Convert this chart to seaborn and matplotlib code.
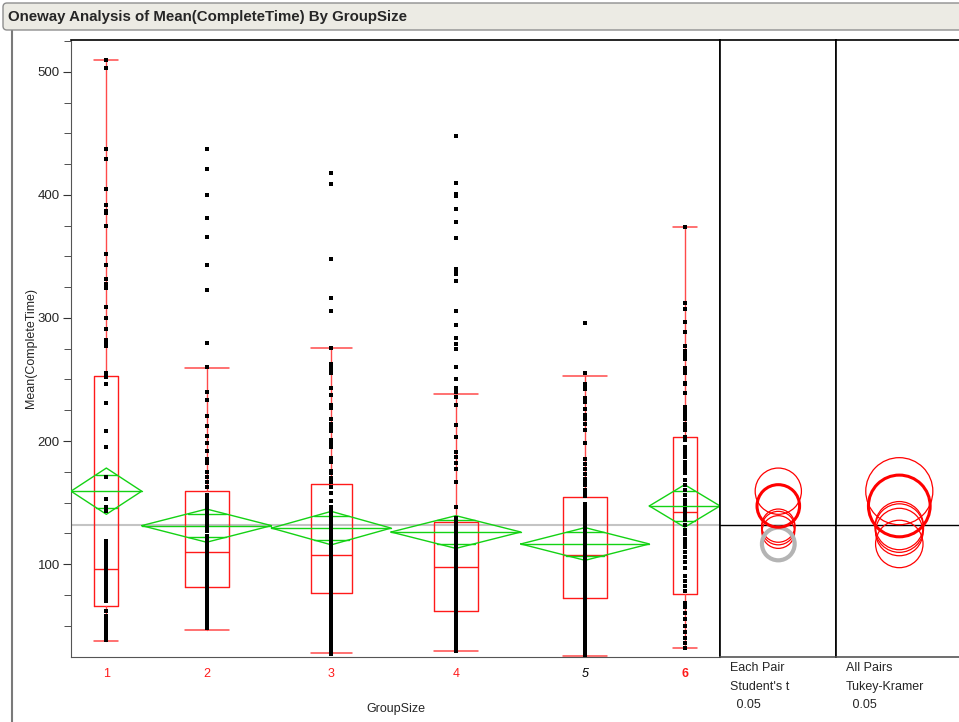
import numpy as np
import pandas as pd
import seaborn as sns
import matplotlib.pyplot as plt
from matplotlib.patches import Circle, FancyBboxPatch
from matplotlib.lines import Line2D
from matplotlib.transforms import IdentityTransform

# ---- data ----
group_labels = ['1', '2', '3', '4', '5', '6']
group_n = [55, 101, 93, 101, 100, 55]

time_g1 = [510, 503, 437, 429, 405, 392, 387, 385, 375, 352, 343, 332, 328, 324, 309, 300, 291,
           282, 279, 277, 255, 252, 246, 231, 208, 195, 171, 153, 146, 145, 143, 119, 116, 113,
           111, 108, 106, 104, 101, 99, 97, 95, 92, 90, 88, 85, 83, 80, 78, 76, 73, 70, 62, 58,
           55, 52, 49, 46, 43, 41, 39, 38]
time_g2 = [437, 421, 400, 381, 366, 343, 323, 280, 260, 240, 233, 220, 212, 204, 198, 192, 185,
           182, 175, 171, 167, 163, 156, 153, 150, 147, 144, 141, 138, 135, 132, 129, 127, 123,
           120, 117, 114, 111, 108, 105, 102, 99, 96, 93, 90, 87, 84, 81, 78, 75, 72, 69, 66,
           63, 60, 57, 54, 51, 48]
time_g3 = [418, 409, 348, 316, 306, 276, 263, 260, 258, 255, 243, 237, 229, 227, 218, 214, 211,
           208, 201, 198, 195, 186, 183, 176, 174, 170, 167, 163, 158, 151, 146, 143, 140, 137,
           134, 131, 128, 125, 122, 119, 116, 113, 110, 107, 104, 101, 98, 95, 92, 89, 86, 83,
           80, 77, 74, 71, 68, 65, 62, 59, 56, 53, 50, 47, 44, 41, 38, 35, 32, 29, 27]
time_g4 = [448, 410, 401, 399, 389, 378, 365, 340, 338, 336, 330, 306, 294, 284, 279, 275, 260,
           250, 243, 240, 236, 229, 213, 203, 191, 187, 182, 177, 167, 146, 137, 134, 131, 128,
           125, 122, 119, 116, 113, 110, 107, 104, 101, 98, 95, 92, 89, 86, 83, 80, 77, 74, 71,
           68, 65, 62, 59, 56, 53, 50, 47, 44, 41, 38, 35, 32, 29]
time_g5 = [296, 255, 246, 244, 242, 235, 232, 226, 221, 218, 214, 209, 198, 185, 181, 177, 173,
           169, 167, 164, 160, 157, 155, 149, 146, 143, 140, 137, 134, 131, 128, 125, 122, 119,
           116, 113, 110, 107, 104, 101, 98, 95, 92, 89, 86, 83, 80, 77, 74, 71, 68, 65, 62, 59,
           56, 53, 50, 47, 44, 41, 38, 35, 32, 29, 26]
time_g6 = [374, 312, 307, 297, 289, 277, 273, 270, 267, 259, 257, 255, 247, 246, 239, 228, 224,
           221, 218, 214, 211, 209, 203, 201, 195, 192, 190, 187, 183, 180, 177, 174, 168, 164,
           160, 156, 152, 149, 145, 142, 139, 136, 132, 128, 124, 120, 117, 114, 110, 106, 102,
           97, 90, 86, 82, 78, 68, 65, 60, 55, 50, 45, 40, 36, 32]
group_times = [time_g1, time_g2, time_g3, time_g4, time_g5, time_g6]

box_whislo = [37.4, 46, 27.5, 29.5, 25.5, 32]
box_q1 = [66, 81, 76.5, 62, 72, 75.5]
box_med = [96, 110, 107.5, 97.5, 107.3, 142.5]
box_q3 = [253, 159, 165, 134, 154.5, 203]
box_whishi = [510, 259, 276, 238.5, 253, 374]

group_mean = [159.2, 131.2, 129.2, 126.0, 116.3, 147.2]
ci_half = [18.8, 13.5, 13.6, 13.3, 13.3, 17.3]
grand_mean = 132
tukey_ratio = 1.45
selected = 5      # group "6"
differs = [4]     # group "5"

# ---- layout in pixels ----
W, H = 959, 722
RED = '#ff1a1a'
GREEN = '#14d214'

sns.set_style('white')
plt.rcParams['font.family'] = ['Liberation Sans', 'DejaVu Sans']

fig = plt.figure(figsize=(W / 100, H / 100), dpi=100)

# title bar and report frame (pixel coords, origin bottom-left)
fig.add_artist(FancyBboxPatch((3, H - 30), W + 10, 27, boxstyle='round,pad=0,rounding_size=4',
                              transform=IdentityTransform(), facecolor='#ecebe4',
                              edgecolor='#8e8e8e', lw=1))
fig.text(8 / W, 1 - 17 / H, 'Oneway Analysis of Mean(CompleteTime) By GroupSize',
         fontsize=10.8, fontweight='bold', va='center', ha='left')
fig.add_artist(Line2D([12 / W, 12 / W], [1 - 31 / H, 0], color='#7a7a7a', lw=1.5,
                      transform=fig.transFigure))

ymin, ymax = 24.4, 526
ax = fig.add_axes([71 / W, 65 / H, 649 / W, 617 / H])
c1 = fig.add_axes([720 / W, 65 / H, 116 / W, 617 / H])
c2 = fig.add_axes([836 / W, 65 / H, 130 / W, 617 / H])
ppu = 617 / (ymax - ymin)

# group positions from sample sizes
n = np.array(group_n, dtype=float)
right = np.cumsum(n)
left = right - n
centers = left + n / 2

df = pd.concat([pd.DataFrame({'GroupSize': g, 'x': c, 'time': t})
                for g, c, t in zip(group_labels, centers, group_times)], ignore_index=True)

ax.axhline(grand_mean, color='#c4c4c4', lw=1.5, zorder=1)

stats = [dict(med=m, q1=a, q3=b, whislo=lo, whishi=hi, fliers=[])
         for m, a, b, lo, hi in zip(box_med, box_q1, box_q3, box_whislo, box_whishi)]
bw = n * 0.34
ax.bxp(stats, positions=centers, widths=bw, capwidths=bw, showfliers=False, manage_ticks=False,
       boxprops=dict(color=RED, lw=1), medianprops=dict(color=RED, lw=1),
       whiskerprops=dict(color='#ff4a4a', lw=1), capprops=dict(color='#ff4a4a', lw=1.1),
       zorder=2)

# means diamonds
for lo, hi, c, m, h in zip(left, right, centers, group_mean, ci_half):
    ax.plot([lo, c, hi, c, lo], [m, m + h, m, m - h, m], color=GREEN, lw=1, zorder=3)
    ax.plot([lo, hi], [m, m], color=GREEN, lw=1, zorder=3)
    half = (hi - lo) * (1 - 1 / np.sqrt(2)) / 2
    for yy in (m + h / np.sqrt(2), m - h / np.sqrt(2)):
        ax.plot([c - half, c + half], [yy, yy], color=GREEN, lw=1, zorder=3)

sns.scatterplot(data=df, x='x', y='time', marker='s', color='black', s=7, linewidth=0,
                ax=ax, legend=False, zorder=4)

ax.set_xlim(0, right[-1])
ax.set_ylim(ymin, ymax)
ax.set_xticks(right[:-1])
ax.set_xticklabels([])
ax.set_xticks(centers, minor=True)
ax.set_xticklabels(group_labels, minor=True)
ax.tick_params(axis='x', which='major', direction='out', length=6, color='#333333')
ax.tick_params(axis='x', which='minor', length=0, pad=8, labelsize=9)
for i, lab in enumerate(ax.get_xticklabels(minor=True)):
    if i == differs[0]:
        lab.set_color('black')
        lab.set_fontstyle('italic')
    else:
        lab.set_color(RED)
    if i == selected:
        lab.set_fontweight('bold')
ax.set_yticks([100, 200, 300, 400, 500])
ax.set_yticks(np.arange(50, 526, 25), minor=True)
ax.tick_params(axis='y', which='major', direction='out', length=6, labelsize=9.5, pad=2,
               color='#333333', left=True)
ax.tick_params(axis='y', which='minor', direction='out', length=5, color='#333333', left=True)
ax.set_xlabel('GroupSize', fontsize=9, va='top')
ax.xaxis.set_label_coords(0.5, -0.075)
ax.set_ylabel('Mean(CompleteTime)', fontsize=9)
ax.yaxis.set_label_coords(-0.052, 0.5)
for s in ['left', 'bottom']:
    ax.spines[s].set_color('#555555')
for s in ['top', 'right']:
    ax.spines[s].set_color('black')
    ax.spines[s].set_linewidth(1.2)

# comparison circles
for cax, width, cx, factor, title, crit in [
        (c1, 116, 58.3, 1.0, ['Each Pair', "Student's t"], 730),
        (c2, 130, 63.3, tukey_ratio, ['All Pairs', 'Tukey-Kramer'], 846)]:
    cax.set_xlim(-cx / ppu, (width - cx) / ppu)
    cax.set_ylim(ymin, ymax)
    cax.axhline(grand_mean, color='black', lw=1, zorder=1)
    for i, (m, h) in enumerate(zip(group_mean, ci_half)):
        if cax is c1 and i in differs:
            ec, lw = '#b4b4b4', 3
        else:
            ec, lw = '#ff0000', (2.2 if i == selected else 0.9)
        cax.add_patch(Circle((0, m), h * factor, fill=False, edgecolor=ec, lw=lw, zorder=2))
    cax.set_xticks([])
    cax.set_yticks([])
    for s in cax.spines.values():
        s.set_color('black')
        s.set_linewidth(1.2)
    cax.spines['bottom'].set_color('#555555')
    fig.text(crit / W, 1 - 668 / H, title[0], fontsize=9, va='center')
    fig.text(crit / W, 1 - 687 / H, title[1], fontsize=9, va='center')
    fig.text((crit + 3) / W, 1 - 705 / H, ' 0.05', fontsize=9, va='center')

fig.savefig('out.png', dpi=100)
